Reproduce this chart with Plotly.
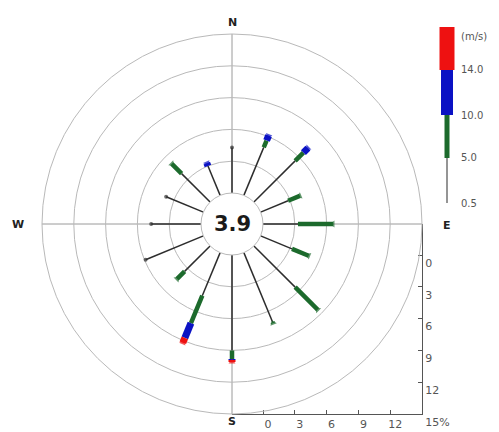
import plotly.graph_objects as go

# Wind rose: frequency (%) of each direction, split into speed classes
directions = ["N", "NNE", "NE", "ENE", "E", "ESE", "SE", "SSE",
              "S", "SSW", "SW", "WSW", "W", "WNW", "NW", "NNW"]
speed_0_5 = [4.3, 4.9, 5.5, 2.8, 3.3, 3.2, 5.5, 7.1, 9.0, 4.4, 3.4, 5.9, 4.7, 3.8, 3.8, 3.0]
speed_5_10 = [0.0, 0.7, 1.1, 1.2, 3.3, 1.7, 3.0, 0.1, 0.8, 2.8, 1.0, 0.0, 0.0, 0.0, 1.3, 0.0]
speed_10_14 = [0.0, 0.5, 0.6, 0.0, 0.0, 0.0, 0.0, 0.0, 0.1, 1.5, 0.0, 0.0, 0.0, 0.0, 0.0, 0.3]
speed_14_up = [0.0, 0.0, 0.0, 0.0, 0.0, 0.0, 0.0, 0.0, 0.2, 0.5, 0.0, 0.0, 0.0, 0.0, 0.0, 0.0]
calm_pct = 3.9

class_bounds = ["0.5", "5.0", "10.0", "14.0"]
unit_label = "(m/s)"
scale_ticks = [0, 3, 6, 9, 12, 15]
scale_max = 15

classes = [speed_0_5, speed_5_10, speed_10_14, speed_14_up]
colors = ["#2d2d2d", "#1c6a2c", "#0b12c4", "#ee1111"]
widths = [1.5, 4.5, 7, 7]

W, H = 499, 432
cx, cy = 232, 224          # rose centre (px)
R = 190                    # outer ring radius (px)
r_hole = 31                # calm circle radius (px)


def px(x):
    return x / W


def py(y):
    return 1 - y / H


angles = [i * 360 / len(directions) for i in range(len(directions))]

fig = go.Figure()

# stacked segments, one trace per speed class
bases = [0.0] * len(directions)
last_color = [colors[0]] * len(directions)
for vals, col, lw in zip(classes, colors, widths):
    rr, tt = [], []
    for i, v in enumerate(vals):
        if v > 0:
            rr += [bases[i], bases[i] + v, None]
            tt += [angles[i], angles[i], None]
            last_color[i] = col
            bases[i] += v
    fig.add_trace(go.Scatterpolar(r=rr, theta=tt, mode="lines",
                                  line=dict(color=col, width=lw),
                                  hoverinfo="skip", showlegend=False))

# end caps at the tip of every direction
cap_r, cap_t, cap_c, cap_s, cap_sym = [], [], [], [], []
for i in range(len(directions)):
    black_only = last_color[i] == colors[0]
    cap_r += [bases[i] - 0.05, bases[i], None]
    cap_t += [angles[i], angles[i], None]
    cap_c += [last_color[i]] * 3
    cap_s += [0, 4 if black_only else 6, 0]
    sym = "circle" if black_only else "triangle-down"
    cap_sym += [sym] * 3
fig.add_trace(go.Scatterpolar(r=cap_r, theta=cap_t, mode="markers",
                              marker=dict(color=cap_c, size=cap_s, symbol=cap_sym,
                                          angleref="previous", line=dict(width=0)),
                              hoverinfo="skip", showlegend=False))

# empty trace so the cartesian scale axes are rendered
fig.add_trace(go.Scatter(x=[None], y=[None], xaxis="x", yaxis="y",
                         mode="markers", hoverinfo="skip", showlegend=False))

fig.update_layout(
    width=W, height=H,
    margin=dict(l=0, r=0, t=0, b=0, autoexpand=False),
    paper_bgcolor="white", plot_bgcolor="rgba(0,0,0,0)",
    showlegend=False,
    polar=dict(
        domain=dict(x=[px(cx - R), px(cx + R)], y=[py(cy + R), py(cy - R)]),
        hole=r_hole / R,
        bgcolor="rgba(0,0,0,0)",
        radialaxis=dict(range=[0, scale_max], tickvals=scale_ticks[1:],
                        showticklabels=False, ticks="", showline=False,
                        gridcolor="#b9b9b9", gridwidth=1),
        angularaxis=dict(direction="clockwise", rotation=90,
                         tickvals=[0, 90, 180, 270], showticklabels=False,
                         ticks="", gridcolor="#9a9a9a", gridwidth=1,
                         showline=True, linecolor="#b9b9b9", linewidth=1),
    ),
)

# percentage scale along the lower-right corner, matched to the radial axis
offset = scale_max * r_hole / (R - r_hole)
tick_font = dict(family="DejaVu Sans", size=11, color="#555555")
fig.update_layout(
    xaxis=dict(domain=[px(cx), px(cx + R)], range=[-offset, scale_max],
               anchor="y", side="bottom", showgrid=False, zeroline=False,
               showline=True, linecolor="#555555", linewidth=1,
               ticks="inside", ticklen=4, tickcolor="#555555",
               tickvals=scale_ticks[:-1], ticktext=[str(t) for t in scale_ticks[:-1]],
               tickfont=tick_font, ticklabelshift=5, automargin=False,
               fixedrange=True),
    yaxis=dict(domain=[py(cy + R), py(cy)], range=[scale_max, -offset],
               anchor="x", side="right", showgrid=False, zeroline=False,
               showline=True, linecolor="#555555", linewidth=1,
               ticks="inside", ticklen=4, tickcolor="#555555",
               tickvals=scale_ticks,
               ticktext=[str(t) for t in scale_ticks[:-1]] + [f"{scale_ticks[-1]}%"],
               tickfont=tick_font, ticklabelshift=-8, automargin=False,
               fixedrange=True),
)

# compass letters
compass = [("N", cx, 22), ("E", 447, 225), ("S", cx, 421), ("W", 18, cy)]
for txt, x, y in compass:
    fig.add_annotation(x=px(x), y=py(y), xref="paper", yref="paper", text=f"<b>{txt}</b>",
                       showarrow=False, xanchor="center", yanchor="middle",
                       font=dict(family="DejaVu Sans", size=11, color="#222222"))

# calm percentage in the centre
fig.add_annotation(x=px(cx), y=py(cy), xref="paper", yref="paper",
                   text=f"<b>{calm_pct}</b>", showarrow=False,
                   xanchor="center", yanchor="middle",
                   font=dict(family="DejaVu Sans", size=21, color="#1a1a1a"))

# speed class key
key_x = 447
key_tops = [203, 158, 115, 70, 27]
key_widths = [1, 5, 12, 15]
for k in range(4):
    y0, y1 = key_tops[k], key_tops[k + 1]
    w = key_widths[k]
    fig.add_shape(type="rect", xref="paper", yref="paper",
                  x0=px(key_x - w / 2), x1=px(key_x + w / 2), y0=py(y0), y1=py(y1),
                  fillcolor=colors[k], line=dict(width=0))
for lbl, y in zip(class_bounds, key_tops[:4]):
    fig.add_annotation(x=px(459), y=py(y), xref="paper", yref="paper", text=lbl,
                       showarrow=False, xanchor="left", yanchor="middle",
                       font=dict(family="DejaVu Sans", size=10, color="#555555"))
fig.add_annotation(x=px(459), y=py(36), xref="paper", yref="paper", text=unit_label,
                   showarrow=False, xanchor="left", yanchor="middle",
                   font=dict(family="DejaVu Sans", size=10, color="#555555"))

fig.write_html("out.html")
